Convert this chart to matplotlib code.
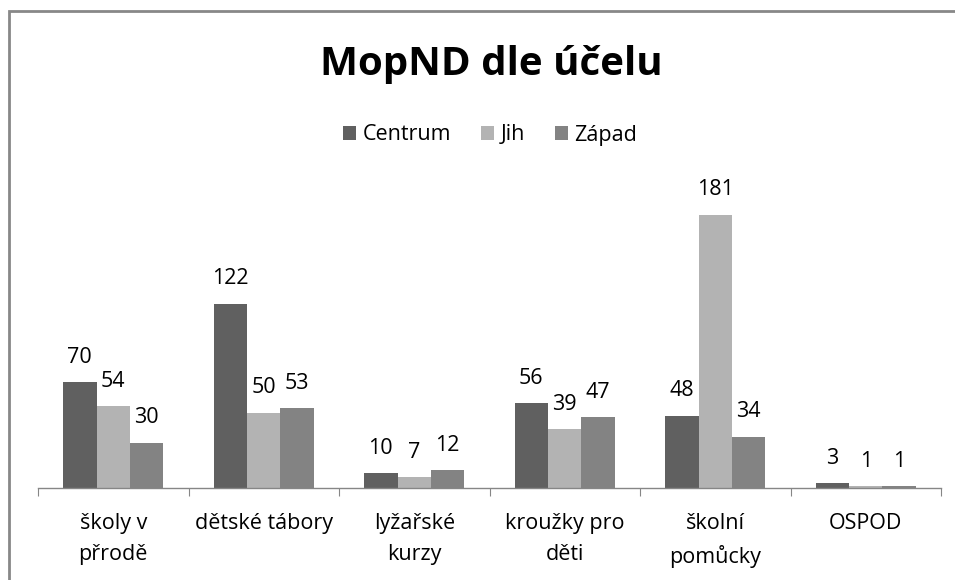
import matplotlib
matplotlib.use("Agg")
import matplotlib.pyplot as plt
import numpy as np
from matplotlib.patches import Rectangle

categories = ["školy v\npřrodě", "dětské tábory", "lyžařské\nkurzy", "kroužky pro\nděti", "školní\npomůcky", "OSPOD"]
series_names = ["Centrum", "Jih", "Západ"]
centrum = [70, 122, 10, 56, 48, 3]
jih = [54, 50, 7, 39, 181, 1]
zapad = [30, 53, 12, 47, 34, 1]
colors = ["#606060", "#b3b3b3", "#838383"]

plt.rcParams['font.family'] = ['Open Sans', 'DejaVu Sans']

fig = plt.figure(figsize=(9.55, 5.8), dpi=100)
ax = fig.add_axes([38/955, 1-488/580, (941-38)/955, (488-186)/580])

n = len(categories)
x = np.arange(n)
w = 1/4.5
for i, (name, vals) in enumerate(zip(series_names, [centrum, jih, zapad])):
    bars = ax.bar(x + (i-1)*w, vals, width=w, color=colors[i], label=name)
    for b, v in zip(bars, vals):
        ax.text(b.get_x()+b.get_width()/2, v + 9.5, str(v), ha='center', va='bottom',
                fontsize=15.5, color='#000000')

ax.set_xlim(-0.5, n-0.5)
ax.set_ylim(0, 200)
ax.set_yticks([])
for s in ['top', 'right', 'left']:
    ax.spines[s].set_visible(False)
ax.spines['bottom'].set_color('#868686')
ax.spines['bottom'].set_linewidth(1)
ax.set_xticks(np.arange(n+1)-0.5, minor=False)
ax.set_xticklabels([])
ax.tick_params(axis='x', length=6, color='#868686', direction='out')
for xi, c in zip(x, categories):
    ax.text(xi, -16.5, c, ha='center', va='top', fontsize=15.5, linespacing=1.62,
            transform=ax.transData)

fig.text(491/955, 1-64/580, "MopND dle účelu", ha='center', va='center',
         fontsize=29, fontweight='bold')
leg = fig.legend(loc='center', bbox_to_anchor=(490/955, 1-135/580), ncol=3, frameon=False,
                 fontsize=15.5, handlelength=0.6, handleheight=0.6, handletextpad=0.3,
                 columnspacing=1.4)

fig.patches.append(Rectangle((9/955, -0.1), 1.2, 1-10.5/580+0.1, transform=fig.transFigure,
                             fill=False, edgecolor='#888888', linewidth=2))

fig.savefig("out.png", dpi=100)
